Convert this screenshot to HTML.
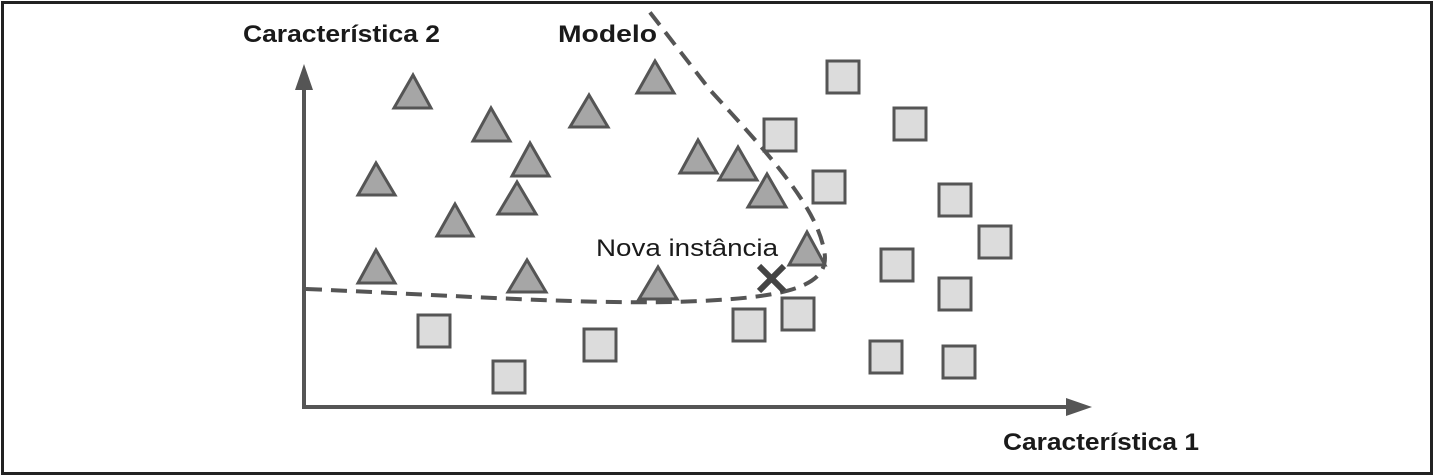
<!DOCTYPE html>
<html><head><meta charset="utf-8"><style>html,body{margin:0;padding:0;background:#fff}svg{display:block}</style></head>
<body>
<svg width="1434" height="476" viewBox="0 0 1434 476" xmlns="http://www.w3.org/2000/svg" font-family="Liberation Sans, sans-serif">
<rect x="2.5" y="2.5" width="1429" height="471" fill="#fff" stroke="#222" stroke-width="3"/>
<g stroke="#555" stroke-width="4" fill="none">
<line x1="304" y1="82" x2="304" y2="407"/>
<line x1="302" y1="407" x2="1068" y2="407"/>
</g>
<polygon points="304,64 295,90 313,90" fill="#555"/>
<polygon points="1092,407 1066,398 1066,416" fill="#555"/>
<g fill="#a6a6a6" stroke="#555" stroke-width="3" stroke-linejoin="miter">
<polygon points="413,75 394,108 431,108"/>
<polygon points="491,108 473,141 510,141"/>
<polygon points="589,95 570,127 608,127"/>
<polygon points="655,61 637,93 674,93"/>
<polygon points="530,143 512,176 549,176"/>
<polygon points="376,163 358,195 395,195"/>
<polygon points="517,182 498,214 536,214"/>
<polygon points="455,204 437,236 473,236"/>
<polygon points="376,250 358,283 395,283"/>
<polygon points="527,260 508,292 546,292"/>
<polygon points="698,140 680,173 717,173"/>
<polygon points="738,147 719,180 757,180"/>
<polygon points="767,174 748,207 786,207"/>
<polygon points="807,232 789,265 825,265"/>
<polygon points="658,267 639,299 677,299"/>
</g>
<g fill="#dcdcdc" stroke="#555" stroke-width="3">
<rect x="827" y="61" width="32" height="32"/>
<rect x="764" y="119" width="32" height="32"/>
<rect x="894" y="108" width="32" height="32"/>
<rect x="813" y="171" width="32" height="32"/>
<rect x="939" y="184" width="32" height="32"/>
<rect x="979" y="226" width="32" height="32"/>
<rect x="881" y="249" width="32" height="32"/>
<rect x="939" y="278" width="32" height="32"/>
<rect x="782" y="298" width="32" height="32"/>
<rect x="733" y="309" width="32" height="32"/>
<rect x="418" y="315" width="32" height="32"/>
<rect x="584" y="329" width="32" height="32"/>
<rect x="870" y="341" width="32" height="32"/>
<rect x="943" y="346" width="32" height="32"/>
<rect x="493" y="361" width="32" height="32"/>
</g>
<path d="M306,289 C450,295 600,306 700,301 C790,297 832,285 824,250 C816,205 765,150 710,90 L645,6" fill="none" stroke="#555" stroke-width="4" stroke-dasharray="16,9"/>
<g stroke="#444" stroke-width="6" stroke-linecap="butt">
<line x1="759" y1="266" x2="784" y2="291"/>
<line x1="784" y1="266" x2="759" y2="291"/>
</g>
<g fill="#1a1a1a" font-size="24">
<text x="243" y="42" font-weight="bold" textLength="197" lengthAdjust="spacingAndGlyphs">Característica 2</text>
<text x="558" y="42" font-weight="bold" textLength="99" lengthAdjust="spacingAndGlyphs">Modelo</text>
<text x="596" y="256" textLength="182" lengthAdjust="spacingAndGlyphs">Nova instância</text>
<text x="1003" y="450" font-weight="bold" textLength="196" lengthAdjust="spacingAndGlyphs">Característica 1</text>
</g>
</svg>
</body></html>
